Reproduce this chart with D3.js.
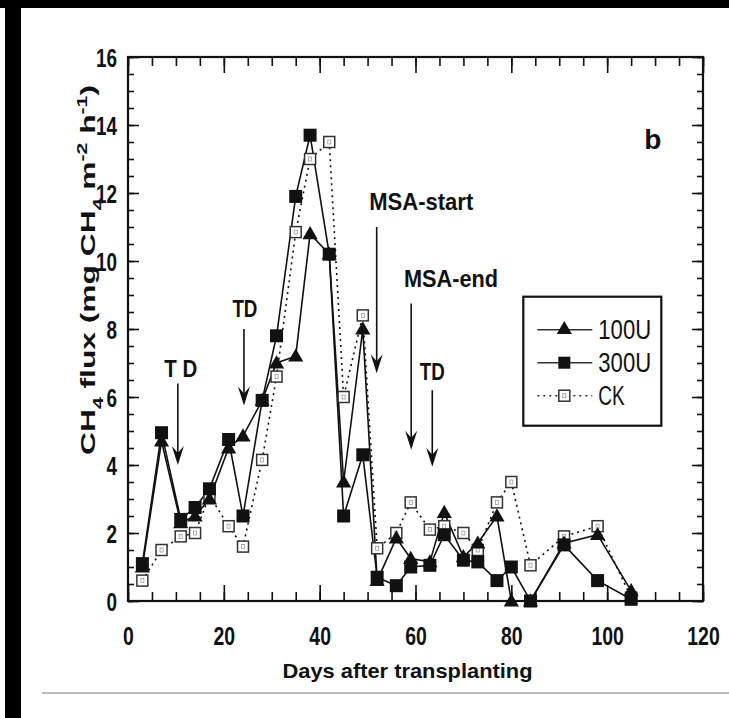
<!DOCTYPE html>
<html>
<head>
<meta charset="utf-8">
<script src="https://cdn.jsdelivr.net/npm/d3@7"></script>
<style>
  html, body { margin: 0; padding: 0; background: #fff; }
  svg { display: block; }
  .lbl { font-family: "Liberation Sans", Arial, sans-serif; font-weight: bold; fill: #111; }
</style>
</head>
<body>
<svg id="vis" width="729" height="718"></svg>
<script>
// values (panel b)
const days = [3, 7, 11, 14, 17, 21, 24, 28, 31, 35, 38, 42, 45, 49, 52, 56, 59, 63, 66, 70, 73, 77, 80, 84, 91, 98, 105];
const u100 = [1.0, 4.7, 2.3, 2.5, 3.0, 4.5, 4.85, 5.9, 7.0, 7.2, 10.8, 10.2, 3.5, 8.0, 0.6, 1.85, 1.25, 1.15, 2.6, 1.3, 1.7, 2.5, 0.0, 0.0, 1.7, 1.95, 0.3];
const u300 = [1.1, 4.95, 2.4, 2.75, 3.3, 4.75, 2.5, 5.9, 7.8, 11.9, 13.7, 10.2, 2.5, 4.3, 0.7, 0.45, 1.0, 1.05, 1.95, 1.2, 1.15, 0.6, 1.0, 0.0, 1.65, 0.6, 0.05];
const ck   = [0.6, 1.5, 1.9, 2.0, 3.1, 2.2, 1.6, 4.15, 6.6, 10.85, 13.0, 13.5, 6.0, 8.4, 1.55, 2.0, 2.9, 2.1, 2.2, 2.0, 1.5, 2.9, 3.5, 1.05, 1.9, 2.2, 0.1];

const seriesNames = ["100U", "300U", "CK"];
const xTicks = [0, 20, 40, 60, 80, 100, 120];
const yTicks = [0, 2, 4, 6, 8, 10, 12, 14, 16];

// arrows: [label, arrow day, label baseline value, arrow top, arrow tip, label day, label width]
const notes = [
  ["T D", 10.4, 6.6, 6.4, 4.0, 11.0, 33],
  ["TD", 24.2, 8.35, 8.0, 5.75, 24.4, 25],
  ["MSA-start", 51.9, 11.5, 11.0, 6.7, 61.2, 104],
  ["MSA-end", 59.1, 9.25, 8.75, 4.45, 67.4, 94],
  ["TD", 63.5, 6.5, 6.2, 3.95, 63.5, 25]
];

const margin = { top: 57, right: 26, bottom: 117, left: 128 };

translate = function(a, b) {
  return "translate(" + a + ", " + b + ")";
}

// squeeze bold text to the narrow face of the scan
fit = function(sel, perChar) {
  sel.attr("lengthAdjust", "spacingAndGlyphs")
    .attr("textLength", function() { return this.textContent.length * perChar; });
}

const svg = d3.select("#vis");
const W = +svg.attr("width"), H = +svg.attr("height");
const plotWidth = W - margin.left - margin.right;
const plotHeight = H - margin.top - margin.bottom;

// page frame bits from the scan
svg.append("rect").attr("x", 0).attr("y", 0).attr("width", W).attr("height", 8).attr("fill", "#000");
svg.append("rect").attr("x", 5).attr("y", 0).attr("width", 16).attr("height", H).attr("fill", "#000");
svg.append("line").attr("x1", 42).attr("x2", W).attr("y1", 693).attr("y2", 693)
  .attr("stroke", "#bbb").attr("stroke-width", 2);

let plot = svg.append("g").attr("transform", translate(margin.left, margin.top));

let x = d3.scaleLinear().domain([0, 120]).range([0, plotWidth]);
let y = d3.scaleLinear().domain([0, 16]).range([plotHeight, 0]);

const minorX = d3.range(0, 121, 5);
const minorY = d3.range(0, 16.01, 0.5);

function axisStyle(g) {
  g.select(".domain").remove();
  g.selectAll("line").attr("stroke", "#111").attr("stroke-width", 1.6);
}

// bottom
plot.append("g").attr("transform", translate(0, plotHeight))
  .call(d3.axisBottom(x).tickValues(minorX).tickSize(-9).tickFormat("")).call(axisStyle);
plot.append("g").attr("transform", translate(0, plotHeight))
  .call(d3.axisBottom(x).tickValues(xTicks).tickSize(-16).tickPadding(44)).call(axisStyle)
  .selectAll("text").attr("class", "lbl").style("font-size", "25px").attr("dy", "0")
  .call(fit, 10.8);
// top
plot.append("g").call(d3.axisTop(x).tickValues(minorX).tickSize(-9).tickFormat("")).call(axisStyle);
plot.append("g").call(d3.axisTop(x).tickValues(xTicks).tickSize(-16).tickFormat("")).call(axisStyle);
// left
plot.append("g").call(d3.axisLeft(y).tickValues(minorY).tickSize(-6).tickFormat("")).call(axisStyle);
plot.append("g").call(d3.axisLeft(y).tickValues(yTicks).tickSize(-11).tickPadding(11)).call(axisStyle)
  .selectAll("text").attr("class", "lbl").style("font-size", "25px").attr("dy", "0.36em")
  .call(fit, 10.5);
// right
plot.append("g").attr("transform", translate(plotWidth, 0))
  .call(d3.axisRight(y).tickValues(minorY).tickSize(-6).tickFormat("")).call(axisStyle);
plot.append("g").attr("transform", translate(plotWidth, 0))
  .call(d3.axisRight(y).tickValues(yTicks).tickSize(-11).tickFormat("")).call(axisStyle);

plot.append("rect").attr("width", plotWidth).attr("height", plotHeight)
  .attr("fill", "none").attr("stroke", "#111").attr("stroke-width", 2.2);

// series
const rows = days.map(function(d, i) { return { day: d, a: u100[i], b: u300[i], c: ck[i] }; });

function drawLine(key, dash) {
  plot.append("path").datum(rows)
    .attr("fill", "none").attr("stroke", "#111").attr("stroke-width", 1.6)
    .attr("stroke-dasharray", dash)
    .attr("d", d3.line().x(function(r) { return x(r.day); }).y(function(r) { return y(r[key]); }));
}

drawLine("c", "2,4");
drawLine("a", null);
drawLine("b", null);

const tri = d3.symbol().type(d3.symbolTriangle).size(100);

function openSquares(g) {
  g.append("rect").attr("x", -5.5).attr("y", -5.5).attr("width", 11).attr("height", 11)
    .attr("fill", "#fff").attr("stroke", "#333").attr("stroke-width", 1.5);
  g.append("rect").attr("x", -1.5).attr("y", -2).attr("width", 3).attr("height", 4)
    .attr("fill", "none").attr("stroke", "#999").attr("stroke-width", 0.8);
}

plot.selectAll(".ck").data(rows).enter().append("g").attr("class", "ck")
  .attr("transform", function(r) { return translate(x(r.day), y(r.c)); })
  .call(openSquares);

plot.selectAll(".u100").data(rows).enter().append("path").attr("class", "u100")
  .attr("transform", function(r) { return translate(x(r.day), y(r.a) + 1); })
  .attr("d", tri).attr("fill", "#111");

plot.selectAll(".u300").data(rows).enter().append("rect").attr("class", "u300")
  .attr("x", function(r) { return x(r.day) - 6.5; })
  .attr("y", function(r) { return y(r.b) - 6.5; })
  .attr("width", 13).attr("height", 13).attr("fill", "#111");

// annotations with arrows
const head = "M0,0 L-6,-19 L0,-12 L6,-19 Z";
notes.forEach(function(n) {
  plot.append("text").attr("class", "lbl")
    .attr("x", x(n[5])).attr("y", y(n[2]))
    .attr("text-anchor", "middle").style("font-size", "24px")
    .attr("lengthAdjust", "spacingAndGlyphs").attr("textLength", n[6])
    .text(n[0]);
  plot.append("line")
    .attr("x1", x(n[1])).attr("x2", x(n[1]))
    .attr("y1", y(n[3])).attr("y2", y(n[4]) - 10)
    .attr("stroke", "#111").attr("stroke-width", 1.6);
  plot.append("path").attr("d", head).attr("fill", "#111")
    .attr("transform", translate(x(n[1]), y(n[4])));
});

// panel letter
plot.append("text").attr("class", "lbl").attr("x", x(109.5)).attr("y", y(13.3))
  .attr("text-anchor", "middle").style("font-size", "28px").text("b");

// legend
const legend = plot.append("g").attr("transform", translate(x(82.5), y(8.95)));
legend.append("rect").attr("width", 138).attr("height", 129)
  .attr("fill", "#fff").attr("stroke", "#111").attr("stroke-width", 2.2);
const item = legend.selectAll(".item").data(seriesNames).enter().append("g")
  .attr("transform", function(d, i) { return translate(0, 33 + i * 33); });
item.append("line").attr("x1", 14).attr("x2", 69).attr("stroke", "#333").attr("stroke-width", 1.6)
  .attr("stroke-dasharray", function(d, i) { return i == 2 ? "2,4" : null; });
item.each(function(d, i) {
  const g = d3.select(this);
  if (i == 0) g.append("path").attr("d", tri).attr("fill", "#111").attr("transform", translate(41, 0));
  if (i == 1) g.append("rect").attr("x", 35).attr("y", -6).attr("width", 12).attr("height", 12).attr("fill", "#111");
  if (i == 2) g.append("g").attr("transform", translate(41, 0)).call(openSquares);
});
item.append("text").attr("class", "lbl").attr("x", 75).attr("dy", "0.36em")
  .style("font-size", "27px").style("font-weight", "normal").text(function(d) { return d; })
  .call(fit, 13.2);

// axis titles
svg.append("text").attr("class", "lbl")
  .attr("x", margin.left + x(60) - 8).attr("y", 678)
  .attr("text-anchor", "middle").style("font-size", "21px")
  .attr("lengthAdjust", "spacingAndGlyphs").attr("textLength", 250)
  .text("Days after transplanting");

const yt = svg.append("text").attr("class", "lbl")
  .attr("transform", translate(95, 270) + " rotate(-90)")
  .attr("text-anchor", "middle").style("font-size", "21px")
  .attr("lengthAdjust", "spacingAndGlyphs").attr("textLength", 370);
yt.append("tspan").text("CH");
yt.append("tspan").attr("baseline-shift", "sub").style("font-size", "14px").text("4");
yt.append("tspan").text(" flux (mg CH");
yt.append("tspan").attr("baseline-shift", "sub").style("font-size", "14px").text("4");
yt.append("tspan").text(" m");
yt.append("tspan").attr("baseline-shift", "super").style("font-size", "14px").text("-2");
yt.append("tspan").text(" h");
yt.append("tspan").attr("baseline-shift", "super").style("font-size", "14px").text("-1");
yt.append("tspan").text(")");
</script>
</body>
</html>
